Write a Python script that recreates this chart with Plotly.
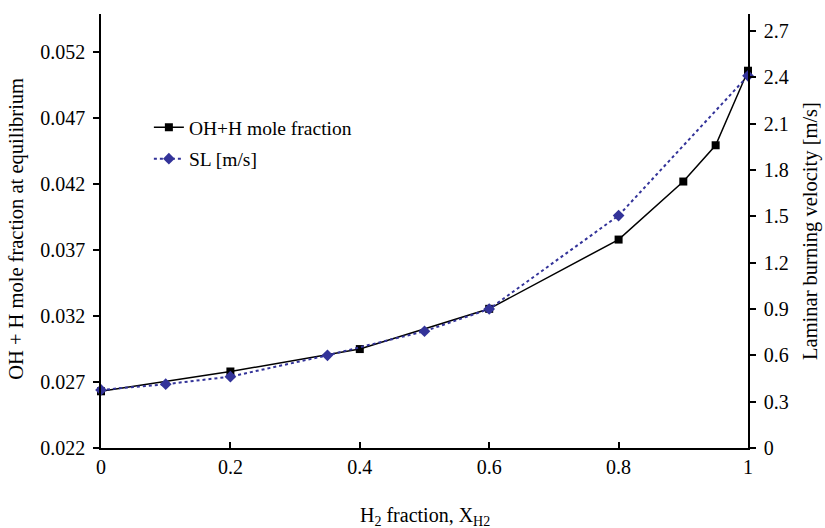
import plotly.graph_objects as go

# Data
x_ohh = [0, 0.2, 0.4, 0.6, 0.8, 0.9, 0.95, 1.0]
y_ohh = [0.0263, 0.0278, 0.0295, 0.03255, 0.0378, 0.0422, 0.04495, 0.0506]
x_sl = [0, 0.1, 0.2, 0.35, 0.5, 0.6, 0.8, 1.0]
y_sl = [0.376, 0.413, 0.462, 0.60, 0.756, 0.90, 1.505, 2.41]

left_ticks = [0.022, 0.027, 0.032, 0.037, 0.042, 0.047, 0.052]
left_ticktext = ["0.022", "0.027", "0.032", "0.037", "0.042", "0.047", "0.052"]
right_ticks = [0, 0.3, 0.6, 0.9, 1.2, 1.5, 1.8, 2.1, 2.4, 2.7]
right_ticktext = ["0", "0.3", "0.6", "0.9", "1.2", "1.5", "1.8", "2.1", "2.4", "2.7"]
x_ticks = [0, 0.2, 0.4, 0.6, 0.8, 1]
x_ticktext = ["0", "0.2", "0.4", "0.6", "0.8", "1"]

FONT = "Liberation Serif"
BLUE = "#333399"

fig = go.Figure()
fig.add_trace(go.Scatter(
    x=x_ohh, y=y_ohh, name="OH+H mole fraction", mode="lines+markers",
    legendgroup="a",
    line=dict(color="black", width=1.5),
    marker=dict(symbol="square", size=8, color="black"),
    yaxis="y", cliponaxis=False))
fig.add_trace(go.Scatter(
    x=x_sl, y=y_sl, name="SL [m/s]", mode="lines+markers",
    legendgroup="b",
    line=dict(color=BLUE, width=2, dash="dot"),
    marker=dict(symbol="diamond", size=9, color=BLUE),
    yaxis="y2", cliponaxis=False))

LMIN, LMAX = 0.022, 0.0549
RMIN, RMAX = 0.0, 2.81

fig.update_layout(
    width=825, height=528,
    margin=dict(l=101, r=77, t=14, b=80, autoexpand=False),
    paper_bgcolor="white", plot_bgcolor="white",
    font=dict(family=FONT, size=20, color="black"),
    showlegend=True,
    legend=dict(x=0.074, y=0.783, xanchor="left", yanchor="top",
                bgcolor="rgba(0,0,0,0)", font=dict(size=19.5),
                tracegroupgap=3),
    xaxis=dict(range=[0, 1], tickvals=x_ticks, ticktext=x_ticktext,
               showline=True, linecolor="black", linewidth=1.5,
               ticks="inside", ticklen=6, tickcolor="black", tickwidth=1.5,
               showgrid=False, zeroline=False, automargin=False),
    yaxis=dict(range=[LMIN, LMAX], tickvals=left_ticks, ticktext=left_ticktext,
               showline=True, linecolor="black", linewidth=1.5,
               ticks="outside", ticklen=6, tickcolor="black", tickwidth=1.5,
               ticklabelstandoff=4, automargin=False,
               showgrid=False, zeroline=False),
    yaxis2=dict(range=[RMIN, RMAX], tickvals=right_ticks, ticktext=right_ticktext,
                overlaying="y", side="right",
                showline=True, linecolor="black", linewidth=1.5,
                ticks="outside", ticklen=6, tickcolor="black", tickwidth=1.5,
                ticklabelstandoff=4, automargin=False,
                showgrid=False, zeroline=False),
    yaxis3=dict(range=[RMIN, RMAX], tickvals=right_ticks,
                overlaying="y", side="right", showticklabels=False,
                ticks="inside", ticklen=6, tickcolor="black", tickwidth=1.5,
                showline=False, showgrid=False, zeroline=False, automargin=False),
    annotations=[
        dict(text="H<sub>2</sub> fraction, X<sub>H2</sub>", xref="paper", yref="paper",
             x=0.5, y=-0.157, xanchor="center", yanchor="middle",
             showarrow=False, font=dict(family=FONT, size=20, color="black")),
        dict(text="OH + H mole fraction at equilibrium", xref="paper", yref="paper",
             x=-0.1298, y=0.505, xanchor="center", yanchor="middle", textangle=-90,
             showarrow=False, font=dict(family=FONT, size=20.5, color="black")),
        dict(text="Laminar burning velocity [m/s]", xref="paper", yref="paper",
             x=1.0958, y=0.50, xanchor="center", yanchor="middle", textangle=-90,
             showarrow=False, font=dict(family=FONT, size=20.5, color="black")),
    ],
)

fig.write_html("out.html")
